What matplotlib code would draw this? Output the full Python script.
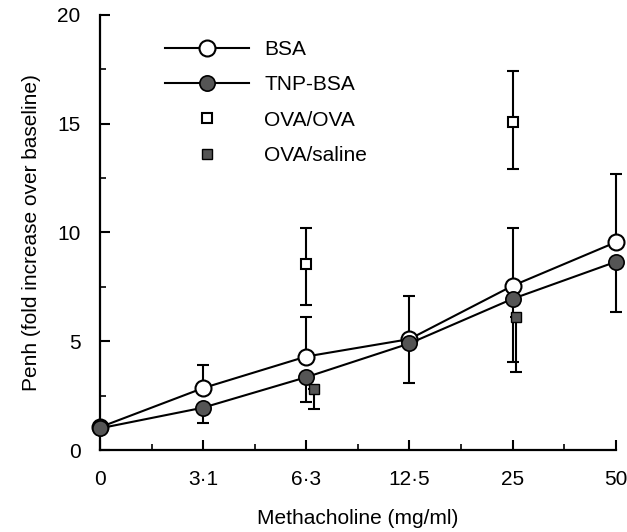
import matplotlib
matplotlib.use("Agg")
import matplotlib.pyplot as plt
from matplotlib.ticker import MultipleLocator
import numpy as np

plt.rcParams['font.family'] = ['Liberation Sans', 'DejaVu Sans']

doses = ['0', '3·1', '6·3', '12·5', '25', '50']

bsa = [1.05, 2.85, 4.3, 5.1, 7.55, 9.55]
bsa_up = [0, 1.05, 1.8, 2.0, 2.65, 3.15]

tnp = [1.0, 1.95, 3.35, 4.9, 6.95, 8.65]
tnp_down = [0, 0.7, 1.15, 1.8, 2.9, 2.3]

ova_ova_idx = [2, 4]
ova_ova = [8.55, 15.1]
ova_ova_down = [1.9, 2.2]
ova_ova_up = [1.65, 2.3]

ova_sal_idx = [2.07, 4.03]
ova_sal = [2.8, 6.1]
ova_sal_down = [0.9, 2.5]

x = np.arange(len(doses))
fs = 15

fig = plt.figure(figsize=(6.27, 5.32), dpi=100)
ax = fig.add_axes([0.1595, 0.154, 0.8225, 0.818])

lw = 1.5
cap = 4.5

# error bars first, then lines/markers on top
ax.errorbar(x, bsa, yerr=[np.zeros(len(x)), bsa_up], fmt='none', ecolor='black',
            elinewidth=lw, capsize=cap, capthick=lw, clip_on=False, zorder=2)
ax.errorbar(x, tnp, yerr=[tnp_down, np.zeros(len(x))], fmt='none', ecolor='black',
            elinewidth=lw, capsize=cap, capthick=lw, clip_on=False, zorder=2)
ax.errorbar(ova_ova_idx, ova_ova, yerr=[ova_ova_down, ova_ova_up], fmt='none', ecolor='black',
            elinewidth=lw, capsize=cap, capthick=lw, zorder=2)
ax.errorbar(ova_sal_idx, ova_sal, yerr=[ova_sal_down, [0, 0]], fmt='none', ecolor='black',
            elinewidth=lw, capsize=cap, capthick=lw, zorder=2)

l1, = ax.plot(x, bsa, '-o', color='black', lw=lw, ms=11.5, mfc='white', mec='black',
              mew=1.5, clip_on=False, zorder=4, label='BSA')
l2, = ax.plot(x, tnp, '-o', color='black', lw=lw, ms=11, mfc='#555555', mec='black',
              mew=1.2, clip_on=False, zorder=5, label='TNP-BSA')
l3, = ax.plot(ova_ova_idx, ova_ova, 's', ms=7, mfc='white', mec='black', mew=1.5,
              linestyle='none', zorder=6, label='OVA/OVA')
l4, = ax.plot(ova_sal_idx, ova_sal, 's', ms=7, mfc='#555555', mec='black', mew=1.0,
              linestyle='none', zorder=6, label='OVA/saline')

ax.set_xlim(0, 5)
ax.set_ylim(0, 20)
ax.set_xticks(x)
ax.set_xticklabels(doses)
ax.xaxis.set_minor_locator(MultipleLocator(0.5))
ax.yaxis.set_major_locator(MultipleLocator(5))
ax.yaxis.set_minor_locator(MultipleLocator(2.5))

for side in ['top', 'right']:
    ax.spines[side].set_visible(False)
for side in ['left', 'bottom']:
    ax.spines[side].set_linewidth(1.6)

ax.tick_params(which='major', direction='in', length=7, width=1.5, labelsize=fs)
ax.tick_params(which='minor', direction='in', length=4, width=1.2)
ax.tick_params(axis='x', pad=14)
ax.tick_params(axis='y', pad=14)

ax.set_xlabel('Methacholine (mg/ml)', fontsize=fs, labelpad=15)
ax.set_ylabel('Penh (fold increase over baseline)', fontsize=fs, labelpad=12)

ax.legend(handles=[l1, l2, l3, l4], loc='upper left', bbox_to_anchor=(0.247, 0.944),
          bbox_transform=fig.transFigure, frameon=False, fontsize=fs,
          handlelength=4.0, handletextpad=0.75, labelspacing=0.78, borderpad=0)

fig.savefig('out.png', dpi=100)
